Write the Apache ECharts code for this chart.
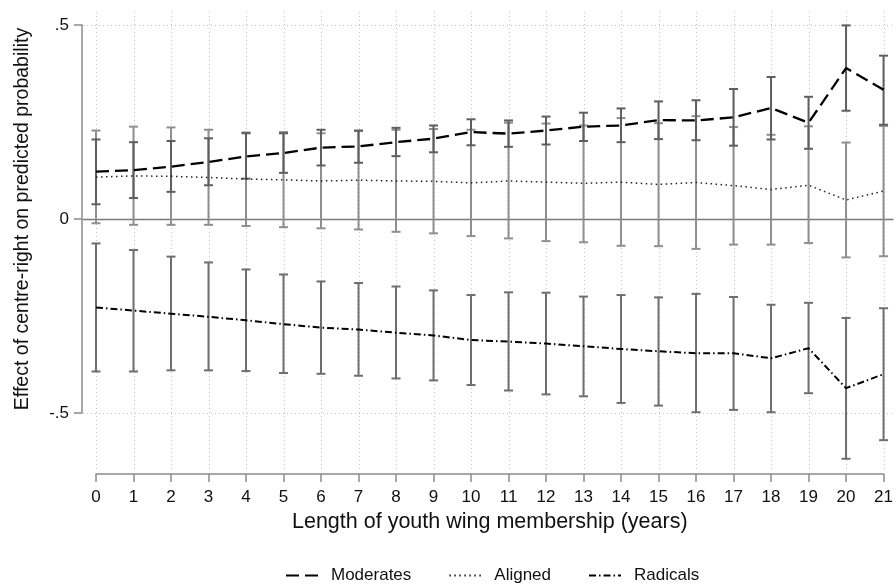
<!DOCTYPE html>
<html><head><meta charset="utf-8">
<script src="https://cdn.jsdelivr.net/npm/echarts@6/dist/echarts.min.js"></script>
<style>html,body{margin:0;padding:0;background:#fff}#c{width:896px;height:585px}</style>
</head><body><div id="c"></div>
<script>
const years = [0,1,2,3,4,5,6,7,8,9,10,11,12,13,14,15,16,17,18,19,20,21];

const modMean = [0.122,0.126,0.135,0.147,0.161,0.170,0.184,0.187,0.198,0.207,0.224,0.220,0.228,0.238,0.241,0.255,0.254,0.262,0.286,0.248,0.389,0.333];
const modLow  = [0.038,0.054,0.070,0.087,0.104,0.119,0.138,0.145,0.162,0.172,0.190,0.186,0.192,0.201,0.198,0.206,0.203,0.189,0.205,0.181,0.279,0.243];
const modHigh = [0.205,0.198,0.201,0.208,0.221,0.221,0.230,0.228,0.235,0.241,0.257,0.254,0.264,0.274,0.285,0.303,0.306,0.335,0.366,0.315,0.499,0.421];

const alnMean = [0.108,0.111,0.110,0.107,0.103,0.101,0.098,0.100,0.098,0.097,0.093,0.098,0.095,0.092,0.095,0.089,0.094,0.086,0.076,0.087,0.049,0.072];
const alnLow  = [-0.011,-0.015,-0.015,-0.015,-0.018,-0.021,-0.024,-0.027,-0.033,-0.037,-0.044,-0.050,-0.057,-0.060,-0.069,-0.070,-0.077,-0.066,-0.066,-0.062,-0.099,-0.096];
const alnHigh = [0.228,0.238,0.236,0.230,0.223,0.224,0.221,0.227,0.230,0.232,0.230,0.248,0.246,0.241,0.260,0.247,0.265,0.237,0.217,0.239,0.197,0.240];

const radMean = [-0.228,-0.236,-0.244,-0.252,-0.261,-0.271,-0.280,-0.285,-0.293,-0.300,-0.312,-0.316,-0.321,-0.328,-0.335,-0.341,-0.346,-0.346,-0.359,-0.333,-0.436,-0.400];
const radLow  = [-0.393,-0.393,-0.390,-0.390,-0.392,-0.397,-0.399,-0.404,-0.411,-0.416,-0.428,-0.442,-0.452,-0.457,-0.474,-0.481,-0.498,-0.492,-0.498,-0.449,-0.618,-0.570];
const radHigh = [-0.063,-0.080,-0.097,-0.112,-0.130,-0.143,-0.161,-0.165,-0.174,-0.184,-0.196,-0.189,-0.190,-0.200,-0.196,-0.202,-0.193,-0.201,-0.221,-0.216,-0.255,-0.230];

const yTicks = [-0.5, 0, 0.5];
const yTickLabels = ['-.5', '0', '.5'];

const FONT = '"Liberation Sans", Arial, Helvetica, sans-serif';
const AXIS_COLOR = '#8a8a8a';

function ciSeries(name, lo, hi, color) {
  return {
    type: 'custom', name: name, coordinateSystem: 'cartesian2d', clip: false, silent: true, z: 3,
    data: years.map((x, i) => [x, lo[i], hi[i]]),
    encode: { x: 0, y: [1, 2] },
    renderItem(params, api) {
      const x = api.value(0);
      const p1 = api.coord([x, api.value(1)]);
      const p2 = api.coord([x, api.value(2)]);
      const hw = 4.5;
      const st = { stroke: color, lineWidth: 2 };
      return { type: 'group', children: [
        { type: 'line', shape: { x1: p1[0], y1: p1[1], x2: p2[0], y2: p2[1] }, style: st },
        { type: 'line', shape: { x1: p1[0]-hw, y1: p1[1], x2: p1[0]+hw, y2: p1[1] }, style: st },
        { type: 'line', shape: { x1: p2[0]-hw, y1: p2[1], x2: p2[0]+hw, y2: p2[1] }, style: st }
      ]};
    }
  };
}

const chart = echarts.init(document.getElementById('c'), null, { renderer: 'canvas' });
chart.setOption({
  animation: false,
  backgroundColor: '#ffffff',
  textStyle: { fontFamily: FONT },
  grid: { left: 96, right: 4, top: 25, bottom: 172, containLabel: false },
  xAxis: {
    type: 'value', min: 0, max: 21, interval: 1, offset: 61,
    axisLine: { show: true, onZero: false, lineStyle: { color: AXIS_COLOR, width: 1.5 } },
    axisTick: { show: true, inside: false, length: 8, lineStyle: { color: AXIS_COLOR, width: 1.5 } },
    axisLabel: { fontSize: 17, color: '#111', margin: 15, fontFamily: FONT },
    splitLine: { show: false },
    name: 'Length of youth wing membership (years)',
    nameLocation: 'middle', nameGap: 27,
    nameTextStyle: { fontSize: 21.5, color: '#111', fontFamily: FONT }
  },
  yAxis: {
    type: 'value', min: -0.5, max: 0.5, interval: 0.5, offset: 14,
    axisLine: { show: true, onZero: false, lineStyle: { color: AXIS_COLOR, width: 1.5 } },
    axisTick: { show: true, inside: false, length: 8, lineStyle: { color: AXIS_COLOR, width: 1.5 } },
    axisLabel: { fontSize: 17, color: '#111', margin: 13, fontFamily: FONT,
      formatter: v => { const i = yTicks.findIndex(t => Math.abs(t - v) < 1e-9); return i >= 0 ? yTickLabels[i] : ''; } },
    splitLine: { show: false },
    name: 'Effect of centre-right on predicted probability',
    nameLocation: 'middle', nameGap: 49, nameRotate: 90,
    nameTextStyle: { fontSize: 19.5, color: '#111', fontFamily: FONT }
  },
  legend: {
    data: ['Moderates', 'Aligned', 'Radicals'],
    left: 285, top: 567, padding: 0, itemWidth: 32, itemHeight: 14, itemGap: 37,
    textStyle: { fontSize: 17, color: '#111', fontFamily: FONT, padding: [0, 0, 0, 8] },
    itemStyle: { opacity: 0 }
  },
  series: [
    {
      type: 'custom', name: 'vgrid', coordinateSystem: 'cartesian2d', clip: false, silent: true, z: 1,
      data: years.map(x => [x, 0]), encode: { x: 0, y: 1 },
      renderItem(params, api) {
        const cs = params.coordSys;
        const px = Math.round(api.coord([api.value(0), 0])[0]) + 0.5;
        return { type: 'line', shape: { x1: px, y1: cs.y - 13, x2: px, y2: cs.y + cs.height + 57 },
          style: { stroke: '#c4c4c4', lineWidth: 1, lineDash: [1, 3] } };
      }
    },
    {
      type: 'custom', name: 'hgrid', coordinateSystem: 'cartesian2d', clip: false, silent: true, z: 1,
      data: yTicks.map(v => [0, v]), encode: { x: 0, y: 1 },
      renderItem(params, api) {
        const cs = params.coordSys;
        const v = api.value(1);
        const py = Math.round(api.coord([0, v])[1]) + 0.5;
        const st = v === 0 ? { stroke: '#7a7a7a', lineWidth: 1.6 } : { stroke: '#c4c4c4', lineWidth: 1, lineDash: [1, 3] };
        return { type: 'line', shape: { x1: cs.x - 13, y1: py, x2: cs.x + cs.width + 10, y2: py }, style: st };
      }
    },
    ciSeries('Aligned CI', alnLow, alnHigh, '#8f8f8f'),
    ciSeries('Radicals CI', radLow, radHigh, '#6e6e6e'),
    ciSeries('Moderates CI', modLow, modHigh, '#5e5e5e'),
    {
      type: 'line', name: 'Moderates', data: years.map((x, i) => [x, modMean[i]]),
      symbol: 'none', clip: false, z: 5, silent: true,
      lineStyle: { color: '#000', width: 2.3, type: [13, 6] }, itemStyle: { color: '#000' }
    },
    {
      type: 'line', name: 'Aligned', data: years.map((x, i) => [x, alnMean[i]]),
      symbol: 'none', clip: false, z: 5, silent: true,
      lineStyle: { color: '#222', width: 1.5, type: [1.5, 3.5] }, itemStyle: { color: '#222' }
    },
    {
      type: 'line', name: 'Radicals', data: years.map((x, i) => [x, radMean[i]]),
      symbol: 'none', clip: false, z: 5, silent: true,
      lineStyle: { color: '#000', width: 2, type: [7, 3, 1.5, 3] }, itemStyle: { color: '#000' }
    }
  ]
});
</script>
</body></html>
